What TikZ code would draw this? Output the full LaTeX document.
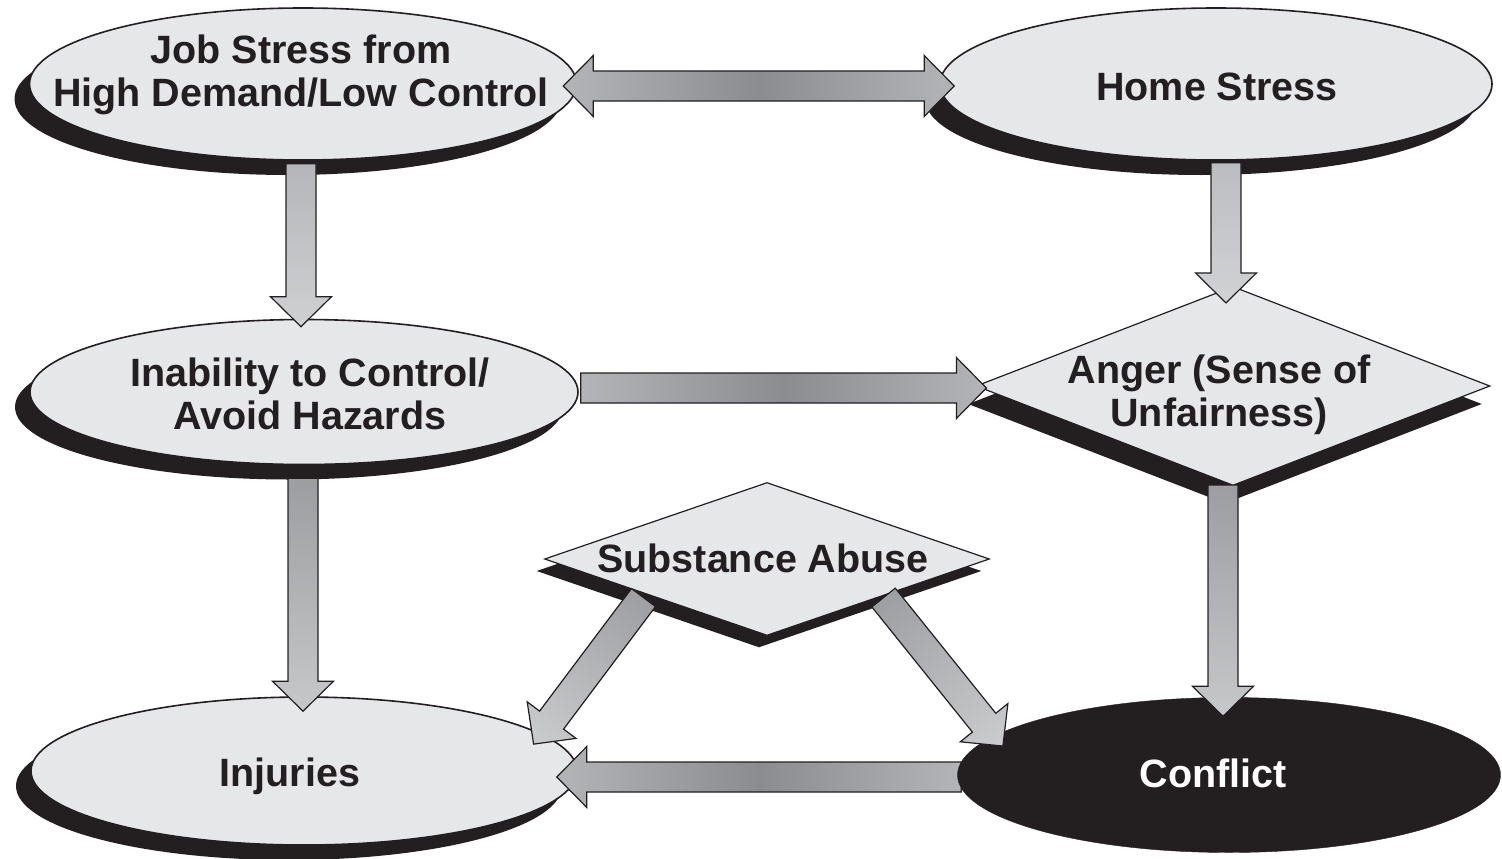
\documentclass[tikz,border=0pt]{standalone}
\usepackage{fontspec}
\setmainfont{Liberation Sans}
\usetikzlibrary{shapes.geometric,shadows,calc}
\definecolor{ink}{HTML}{231F20}
\definecolor{pale}{HTML}{E6E7E8}
\definecolor{aL}{HTML}{DCDDDF}
\definecolor{aMid}{HTML}{8A8C8F}
\definecolor{aDark}{HTML}{86888B}
\definecolor{aMedA}{HTML}{A7A9AC}
\definecolor{aMedB}{HTML}{B0B2B5}
\definecolor{aDiag}{HTML}{8F9194}
\definecolor{aDiagL}{HTML}{D6D7D9}
\pgfdeclarehorizontalshading{hmid}{100bp}{color(0bp)=(aL); color(50bp)=(aMid); color(100bp)=(aL)}
\pgfdeclarehorizontalshading{vdark}{100bp}{color(0bp)=(aDark); color(100bp)=(aL)}
\pgfdeclarehorizontalshading{vmeda}{100bp}{color(0bp)=(aMedA); color(100bp)=(aL)}
\pgfdeclarehorizontalshading{vmedb}{100bp}{color(0bp)=(aMedB); color(100bp)=(aL)}
\pgfdeclarehorizontalshading{diagsh}{100bp}{color(0bp)=(aDiag); color(100bp)=(aDiagL)}
\pgfdeclarelayer{top}
\pgfdeclarelayer{front}
\pgfsetlayers{main,top,front}
\newcommand\arrW{15pt}
\newcommand\arrH{30.5pt}
\newcommand\arrL{30pt}
% single block arrow: #1 shading, #2 start, #3 end
\newcommand\barrow[3]{%
  \coordinate (bS) at (#2);
  \coordinate (bT) at (#3);
  \pgfmathanglebetweenpoints{\pgfpointanchor{bS}{center}}{\pgfpointanchor{bT}{center}}%
  \edef\barang{\pgfmathresult}%
  \coordinate (bB) at ($(bT)!\arrL!(bS)$);
  \path[arrowline, shade, shading=#1, shading angle=\barang]
    ($(bS)!\arrW!90:(bT)$) -- ($(bB)!\arrW!90:(bT)$) -- ($(bB)!\arrH!90:(bT)$) -- (bT)
    -- ($(bB)!\arrH!-90:(bT)$) -- ($(bB)!\arrW!-90:(bT)$) -- ($(bS)!\arrW!-90:(bT)$) -- cycle;
}
% double block arrow
\newcommand\dbarrow[3]{%
  \coordinate (bS) at (#2);
  \coordinate (bT) at (#3);
  \pgfmathanglebetweenpoints{\pgfpointanchor{bS}{center}}{\pgfpointanchor{bT}{center}}%
  \edef\barang{\pgfmathresult}%
  \coordinate (bB) at ($(bT)!\arrL!(bS)$);
  \coordinate (bA) at ($(bS)!\arrL!(bT)$);
  \path[arrowline, shade, shading=#1, shading angle=\barang]
    (bS) -- ($(bA)!\arrH!90:(bT)$) -- ($(bA)!\arrW!90:(bT)$) -- ($(bB)!\arrW!90:(bT)$) -- ($(bB)!\arrH!90:(bT)$) -- (bT)
    -- ($(bB)!\arrH!-90:(bT)$) -- ($(bB)!\arrW!-90:(bT)$) -- ($(bA)!\arrW!-90:(bT)$) -- ($(bA)!\arrH!-90:(bT)$) -- cycle;
}
\tikzset{
  arrowline/.style={draw=ink, line width=1.2pt, line join=miter},
  lab/.style={text=ink, font=\fontsize{39.5}{43}\selectfont\bfseries, align=center, inner sep=0pt},
  blob/.style={ellipse, draw=ink, line width=1.6pt, fill=pale, inner sep=0pt,
    drop shadow={shadow xshift=-15pt, shadow yshift=-15pt, opacity=1, fill=ink}},
  gem/.style={diamond, draw=ink, line width=1.2pt, fill=pale, inner sep=0pt}
}
\begin{document}
\begin{tikzpicture}[x=1pt, y=-1pt]
\path[use as bounding box, fill=white] (0,0) rectangle (1502,859);

\node[blob, minimum width=547pt, minimum height=152pt,
  label={[lab, xshift=-2pt, yshift=9pt]center:{Job Stress from\\High Demand/Low Control}}] (job) at (303,84) {};
\node[blob, minimum width=552pt, minimum height=152pt,
  label={[lab, xshift=1pt, yshift=-3pt]center:{Home Stress}}] (home) at (1216,84) {};
\node[blob, minimum width=548pt, minimum height=145pt,
  label={[lab, xshift=6pt, yshift=-2pt]center:{Inability to Control/\\Avoid Hazards}}] (inab) at (304,392) {};
\node[blob, minimum width=546pt, minimum height=148pt,
  label={[lab, xshift=-14pt, yshift=-5pt]center:{Injuries}}] (inj) at (304,771) {};
\node[gem, minimum width=514pt, minimum height=199pt,
  drop shadow={shadow xshift=-8pt, shadow yshift=-18pt, opacity=1, fill=ink},
  label={[lab, xshift=-14pt, yshift=-9pt]center:{Anger (Sense of\\Unfairness)}}] (anger) at (1233,386) {};
\node[gem, minimum width=445pt, minimum height=153pt,
  drop shadow={shadow xshift=-8pt, shadow yshift=-12pt, opacity=1, fill=ink},
  label={[lab, xshift=-4pt, yshift=1pt]center:{Substance Abuse}}] (subst) at (767,559) {};

\begin{pgfonlayer}{top}
\node[ellipse, fill=ink, draw=ink, inner sep=0pt, minimum width=543pt, minimum height=155pt,
  label={[lab, text=white, xshift=-16pt, yshift=2pt]center:{Conflict}}] (conflict) at (1229,775) {};
\end{pgfonlayer}

% Conflict -> Injuries (starts under Conflict)
\barrow{hmid}{$(conflict.west)+(4,2)$}{$(inj.east)+(-21,6)$}

\begin{pgfonlayer}{front}
\dbarrow{hmid}{$(job.east)+(-14,2)$}{$(home.west)+(15,2)$}
\barrow{vmeda}{$(job.south)+(-2,3)$}{$(inab.north)+(-3,8)$}
\barrow{vdark}{$(inab.south)+(-1,13)$}{$(inj.north)+(-1,15)$}
\barrow{vmedb}{$(home.south)+(10,2)$}{$(anger.north)+(-7,17)$}
\barrow{vdark}{$(anger.south)+(-10,-1)$}{$(conflict.north)+(-6,19)$}
\barrow{hmid}{$(inab.east)+(2,-4)$}{$(anger.west)+(11,2)$}
\barrow{diagsh}{$(subst.south west)+(-12,0)$}{$(inj.north east)+(36,26)$}
\barrow{diagsh}{$(subst.south east)+(5,0)$}{$(conflict.north west)+(-34,26)$}
\end{pgfonlayer}
\end{tikzpicture}
\end{document}
